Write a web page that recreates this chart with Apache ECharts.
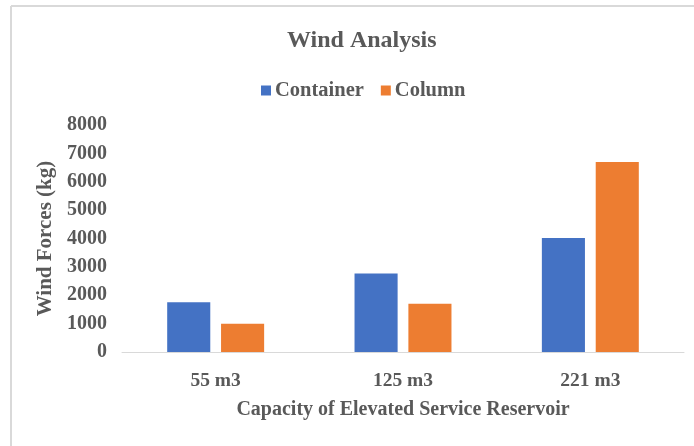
<!DOCTYPE html>
<html>
<head>
<meta charset="utf-8">
<script src="https://cdn.jsdelivr.net/npm/echarts@6/dist/echarts.min.js"></script>
<style>
html, body { margin: 0; padding: 0; background: #fff; }
#chart { width: 694px; height: 446px; }
</style>
</head>
<body>
<div id="chart"></div>
<script>
// data
var categories = ['55 m3', '125 m3', '221 m3'];
var container = [1750, 2770, 4020];
var column = [1000, 1700, 6700];

var font = '"Liberation Serif", "Times New Roman", serif';
var grey = '#595959';

var myChart = echarts.init(document.getElementById('chart'));
var option = {
  animation: false,
  title: {
    text: 'Wind Analysis',
    left: 282,
    top: 24,
    textStyle: { fontFamily: font, fontSize: 24, fontWeight: 'bold', color: grey }
  },
  legend: {
    top: 75,
    left: 256,
    itemWidth: 10,
    itemHeight: 10,
    itemGap: 17,
    icon: 'rect',
    textStyle: { fontFamily: font, fontSize: 20.5, fontWeight: 'bold', color: grey, padding: [0, 0, 0, -1] },
    data: ['Container', 'Column']
  },
  grid: {
    left: 122,
    right: 10,
    top: 125,
    bottom: 94
  },
  xAxis: {
    type: 'category',
    data: categories,
    name: 'Capacity of Elevated Service Reservoir',
    nameLocation: 'middle',
    nameGap: 48,
    nameTextStyle: { fontFamily: font, fontSize: 20, fontWeight: 'bold', color: grey },
    axisLine: { lineStyle: { color: '#d9d9d9', width: 1 } },
    axisTick: { show: false },
    axisLabel: { fontFamily: font, fontSize: 19.5, fontWeight: 'bold', color: grey, margin: 19 }
  },
  yAxis: {
    type: 'value',
    min: 0,
    max: 8000,
    interval: 1000,
    name: 'Wind Forces (kg)',
    nameLocation: 'middle',
    nameGap: 60,
    nameTextStyle: { fontFamily: font, fontSize: 21, fontWeight: 'bold', color: grey },
    splitLine: { show: false },
    axisLine: { show: false },
    axisTick: { show: false },
    axisLabel: {
      fontFamily: font, fontSize: 20, fontWeight: 'bold', color: grey, margin: 15,
      formatter: function (v) { return String(v); }
    }
  },
  series: [
    {
      name: 'Container',
      type: 'bar',
      data: container,
      barWidth: '23%',
      barGap: '25%',
      itemStyle: { color: '#4472C4' }
    },
    {
      name: 'Column',
      type: 'bar',
      data: column,
      barWidth: '23%',
      itemStyle: { color: '#ED7D31' }
    }
  ],
  graphic: [
    { type: 'line', shape: { x1: 11, y1: 6, x2: 694, y2: 6 }, style: { stroke: '#d9d9d9', lineWidth: 2 } },
    { type: 'line', shape: { x1: 11, y1: 6, x2: 11, y2: 446 }, style: { stroke: '#d9d9d9', lineWidth: 2 } }
  ]
};
myChart.setOption(option);
</script>
</body>
</html>
